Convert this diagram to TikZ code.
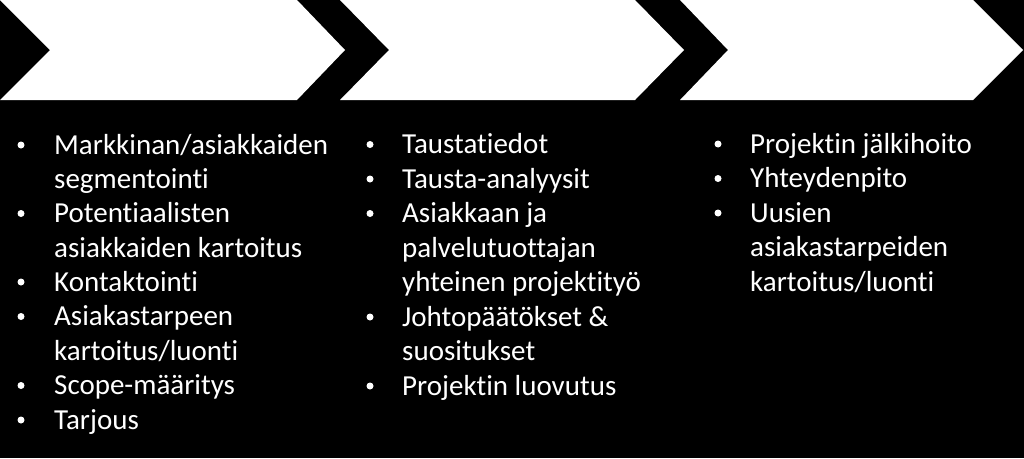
\documentclass[tikz,border=0pt]{standalone}
\usepackage{fontspec}
\setmainfont{Carlito}[RawFeature={-liga;-clig;-dlig}]
\begin{document}
\begin{tikzpicture}[x=1pt,y=-1pt,
  chev/.style={fill=white,draw=none},
  txt/.style={text=white,inner sep=0pt,anchor=base west,font=\fontsize{29}{34}\selectfont},
  bul/.style={circle,fill=white,draw=none,inner sep=0pt,minimum size=7pt}]
\fill[black] (0,0) rectangle (1024,458);
\useasboundingbox (0,0) rectangle (1024,458);
% chevrons
\fill[chev] (0,0) -- (297,0) -- (345,50) -- (297,100) -- (0,100) -- (50,50) -- cycle;
\fill[chev] (340,0) -- (635,0) -- (684,50) -- (635,100) -- (340,100) -- (389,50) -- cycle;
\fill[chev] (680,0) -- (973,0) -- (1023,50) -- (973,100) -- (680,100) -- (728,50) -- cycle;
% column 1
\node[bul] (b11) at (21,145) {};
\node[txt] (t11) at (54,154) {Markkinan/asiakkaiden};
\node[txt] (t12) at (54,188.5) {segmentointi};
\node[bul] (b12) at (21,213.5) {};
\node[txt] (t13) at (54,222.5) {Potentiaalisten};
\node[txt] (t14) at (54,257) {asiakkaiden kartoitus};
\node[bul] (b13) at (21,282) {};
\node[txt] (t15) at (54,291) {Kontaktointi};
\node[bul] (b14) at (21,316.5) {};
\node[txt] (t16) at (54,325.5) {Asiakastarpeen};
\node[txt] (t17) at (54,360) {kartoitus/luonti};
\node[bul] (b15) at (21,385.5) {};
\node[txt] (t18) at (54,394.5) {Scope-määritys};
\node[bul] (b16) at (21,420) {};
\node[txt] (t19) at (54,429) {Tarjous};
% column 2
\node[bul] (b21) at (370,144.5) {};
\node[txt] (t21) at (402,153.5) {Taustatiedot};
\node[bul] (b22) at (370,179) {};
\node[txt] (t22) at (402,188) {Tausta-analyysit};
\node[bul] (b23) at (370,213.5) {};
\node[txt] (t23) at (402,222.5) {Asiakkaan ja};
\node[txt] (t24) at (402,257) {palvelutuottajan};
\node[txt] (t25) at (402,291.5) {yhteinen projektityö};
\node[bul] (b24) at (370,317) {};
\node[txt] (t26) at (402,326) {Johtopäätökset \&};
\node[txt] (t27) at (402,360.5) {suositukset};
\node[bul] (b25) at (370,386) {};
\node[txt] (t28) at (402,395) {Projektin luovutus};
% column 3
\node[bul] (b31) at (718,144) {};
\node[txt] (t31) at (750,153) {Projektin jälkihoito};
\node[bul] (b32) at (718,178.5) {};
\node[txt] (t32) at (750,187.5) {Yhteydenpito};
\node[bul] (b33) at (718,213) {};
\node[txt] (t33) at (750,222) {Uusien};
\node[txt] (t34) at (750,256.5) {asiakastarpeiden};
\node[txt] (t35) at (750,291) {kartoitus/luonti};
\end{tikzpicture}
\end{document}
